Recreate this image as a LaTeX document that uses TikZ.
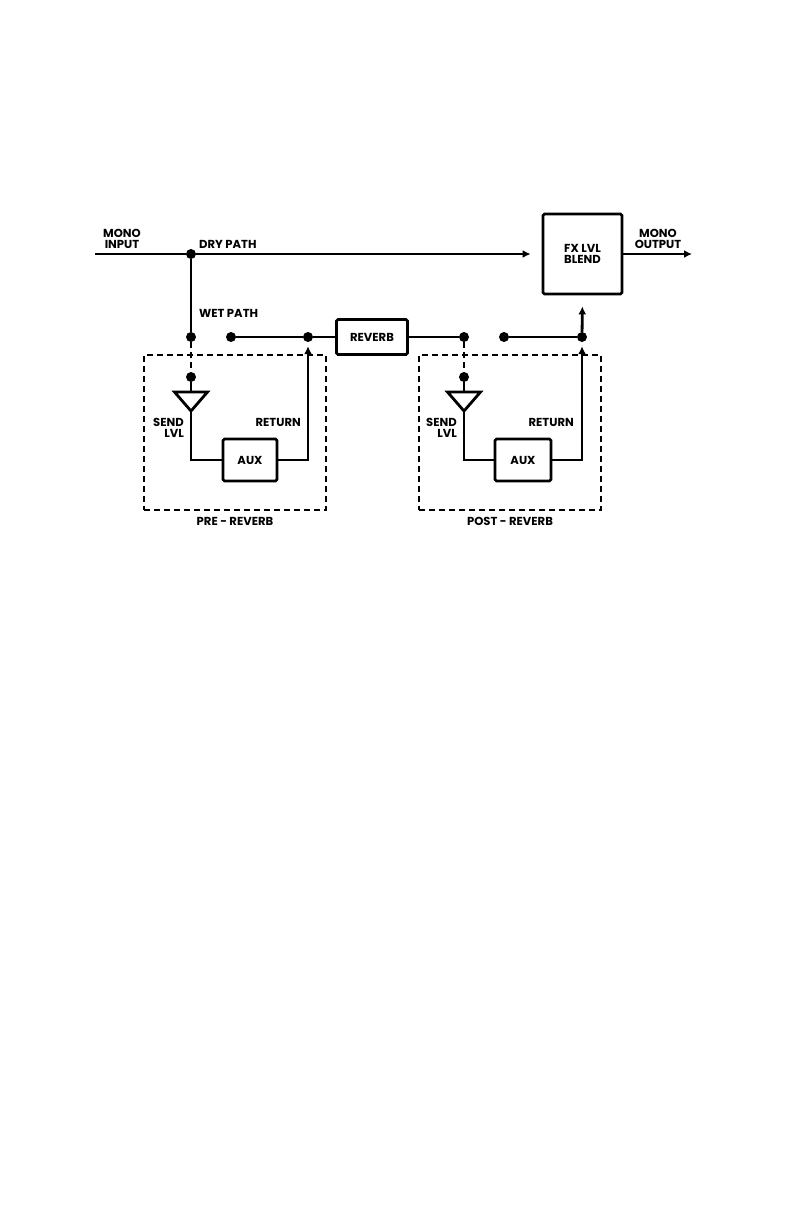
\documentclass[tikz,border=0pt]{standalone}
\usepackage{fontspec}
\setmainfont{Poppins}
\usepackage{tikz}
\usetikzlibrary{arrows.meta,positioning,calc}
\newcommand{\lblfont}{\bfseries\fontsize{11.6}{11}\selectfont}

\begin{document}
\begin{tikzpicture}[x=1pt, y=-1pt,
    wire/.style={line width=2.8pt},
    arrow/.style={line width=2.8pt, -{Latex[length=8pt,width=8pt]}},
    dwire/.style={line width=2.8pt, dash pattern=on 6pt off 4pt},
    dot/.style={circle, fill=black, inner sep=0pt, minimum size=10pt},
    block/.style={rectangle, draw, line width=2.8pt, rounded corners=1.5pt, font=\lblfont, align=center},
    lbl/.style={font=\lblfont, inner sep=0pt, align=center},
    zone/.style={rectangle, draw, line width=2.4pt, dash pattern=on 6pt off 4pt, minimum width=182pt, minimum height=155pt}]
  \useasboundingbox (0,0) rectangle (792,1224);
  % dry path
  \coordinate (in) at (95,254);
  \node[dot] (split) at (191,254) {};
  \node[block, minimum width=79pt, minimum height=80pt] (fx) at (582.5,254) {FX LVL\\BLEND};
  \coordinate (out) at (692,254);
  \node[lbl] (inlbl) at (122,238.5) {MONO\\INPUT};
  \node[lbl] (outlbl) at (658,238.5) {MONO\\OUTPUT};
  \node[lbl, anchor=west] (drylbl) at (199,244) {DRY PATH};
  \node[lbl, anchor=west] (wetlbl) at (199,313) {WET PATH};
  % wet path
  \node[dot] (wet) at (191,337) {};
  \node[dot] (prefrom) at (231,337) {};
  \node[dot] (preret) at (308,337) {};
  \node[block, minimum width=71pt, minimum height=35pt] (rev) at (372,337) {REVERB};
  \node[dot] (revout) at (464,337) {};
  \node[dot] (postfrom) at (504,337) {};
  \node[dot] (postret) at (582,337) {};
  % pre reverb loop
  \node[zone] (prezone) at (235,432.5) {};
  \node[lbl, below=6pt of prezone] (prelbl) {PRE - REVERB};
  \node[dot] (presend) at (191,377) {};
  \coordinate (pretri) at ($(presend)+(0,15)$);
  \coordinate (pretip) at ($(presend)+(0,34)$);
  \draw[wire] ($(pretri)+(-16.5,0)$) -- ($(pretri)+(16.5,0)$) -- (pretip) -- cycle;
  \node[block, minimum width=54pt, minimum height=42pt] (preaux) at (250,460) {AUX};
  \node[lbl, anchor=east, align=right] (presendlbl) at (184,427.5) {SEND\\LVL};
  \node[lbl, anchor=east] (preretlbl) at (301,422) {RETURN};
  % post reverb loop
  \node[zone] (postzone) at (510,432.5) {};
  \node[lbl, below=6pt of postzone] (postlbl) {POST - REVERB};
  \node[dot] (postsend) at (464,377) {};
  \coordinate (posttri) at ($(postsend)+(0,15)$);
  \coordinate (posttip) at ($(postsend)+(0,34)$);
  \draw[wire] ($(posttri)+(-16.5,0)$) -- ($(posttri)+(16.5,0)$) -- (posttip) -- cycle;
  \node[block, minimum width=56pt, minimum height=42pt] (postaux) at (523,460) {AUX};
  \node[lbl, anchor=east, align=right] (postsendlbl) at (457,427.5) {SEND\\LVL};
  \node[lbl, anchor=east] (postretlbl) at (574,422) {RETURN};
  % connections
  \draw[wire] (in) -- (split);
  \draw[arrow, shorten >=11pt] (split) -- (fx.west);
  \draw[arrow] (fx.east) -- (out);
  \draw[wire] (split) -- (wet);
  \draw[dwire] (wet) -- (presend);
  \draw[wire] (presend) -- (pretri);
  \draw[wire] (pretip) |- (preaux.west);
  \draw[arrow, shorten >=4pt] (preaux.east) -| (preret);
  \draw[wire] (prefrom) -- (preret) -- (rev.west);
  \draw[wire] (rev.east) -- (revout);
  \draw[dwire] (revout) -- (postsend);
  \draw[wire] (postsend) -- (posttri);
  \draw[wire] (posttip) |- (postaux.west);
  \draw[arrow, shorten >=4pt] (postaux.east) -| (postret);
  \draw[wire] (postfrom) -- (postret);
  \draw[arrow, shorten >=11pt] (postret) -- (fx.south);
\end{tikzpicture}
\end{document}
